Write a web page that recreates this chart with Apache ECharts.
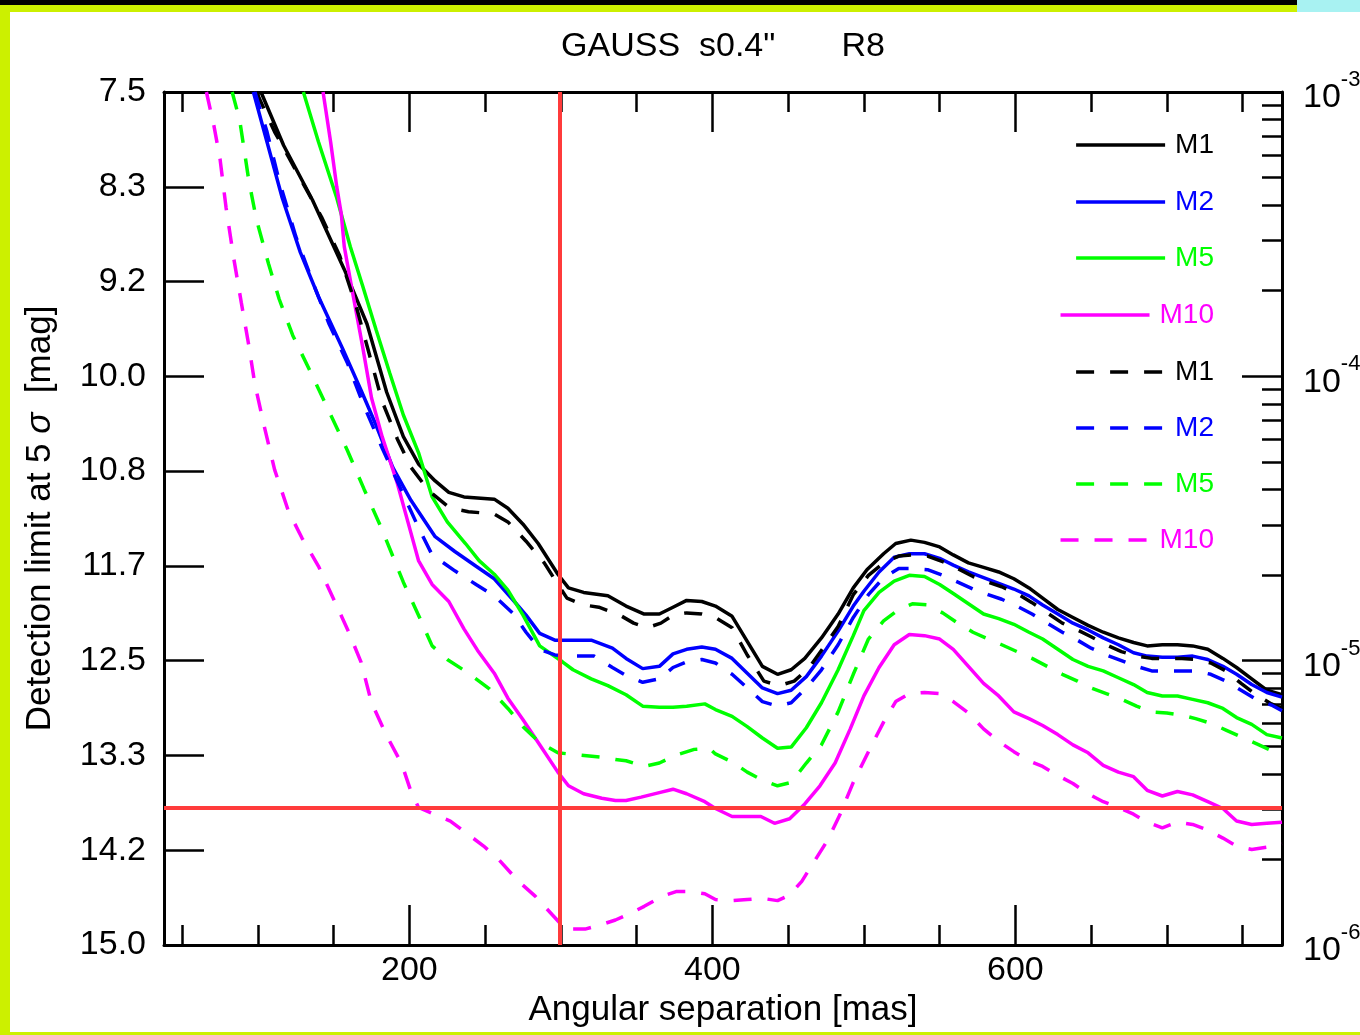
<!DOCTYPE html>
<html>
<head>
<meta charset="utf-8">
<script src="https://cdn.jsdelivr.net/npm/echarts@6/dist/echarts.min.js"></script>
<style>
html,body{margin:0;padding:0;background:#fff;overflow:hidden;}
#chart{position:absolute;left:0;top:0;width:1360px;height:1035px;}
.deco{position:absolute;pointer-events:none;z-index:5;}
</style>
</head>
<body>
<div id="chart"></div>
<div class="deco" style="left:0;top:0;width:1360px;height:5px;background:#000"></div>
<div class="deco" style="left:0;top:5px;width:1360px;height:7px;background:#ccf000"></div>
<div class="deco" style="left:0;top:5px;width:10px;height:1030px;background:#ccf000"></div>
<div class="deco" style="left:0;top:1032px;width:1360px;height:3px;background:#ccf000"></div>
<div class="deco" style="left:1297px;top:0;width:63px;height:12px;background:#a8f2f2"></div>
<script>
// ---------- axis ticks / labels ----------
const sepMinorTicks = [50,100,150,200,250,300,350,400,450,500,550,600,650,700,750];
const sepMajorTicks = [200,400,600];
const magTicks = [7.5, 8.3333, 9.1667, 10, 10.8333, 11.6667, 12.5, 13.3333, 14.1667, 15];
const fluxMajor = [1e-3, 1e-4, 1e-5, 1e-6];
const fluxMinor = [9e-4,8e-4,7e-4,6e-4,5e-4,4e-4,3e-4,2e-4,
                   9e-5,8e-5,7e-5,6e-5,5e-5,4e-5,3e-5,2e-5,
                   9e-6,8e-6,7e-6,6e-6,5e-6,4e-6,3e-6,2e-6];
const redSep = 299;     // vertical red line [mas]
const redMag = 13.79;   // horizontal red line [mag]

// ---------- series data [separation mas, mag] ----------
const m1Solid = [[102,7.5],[117,7.97],[136,8.45],[157,9.06],[172,9.54],[185,10.14],[196,10.53],[206,10.77],[217,10.92],[226,11.02],[236,11.06],[256,11.08],[265,11.16],[275,11.30],[285,11.47],[298,11.74],[305,11.86],[315,11.90],[331,11.93],[343,12.02],[355,12.09],[365,12.09],[374,12.03],[383,11.97],[393,11.98],[402,12.02],[413,12.11],[423,12.33],[433,12.55],[443,12.62],[452,12.58],[461,12.48],[472,12.30],[483,12.09],[493,11.86],[502,11.70],[513,11.56],[521,11.47],[531,11.44],[540,11.46],[550,11.50],[559,11.57],[569,11.64],[579,11.68],[589,11.72],[599,11.78],[609,11.86],[618,11.95],[628,12.05],[638,12.12],[648,12.19],[658,12.25],[668,12.30],[678,12.34],[687,12.37],[697,12.36],[707,12.36],[717,12.37],[727,12.40],[737,12.48],[746,12.56],[756,12.66],[766,12.76],[776,12.80]];
const m2Solid = [[97,7.5],[106,7.94],[116,8.43],[128,8.91],[140,9.30],[156,9.76],[168,10.12],[178,10.43],[189,10.80],[201,11.09],[217,11.41],[230,11.54],[244,11.67],[256,11.78],[268,11.96],[277,12.10],[286,12.26],[296,12.32],[308,12.32],[320,12.32],[334,12.39],[343,12.48],[354,12.57],[365,12.55],[374,12.44],[383,12.40],[393,12.38],[402,12.40],[413,12.48],[423,12.61],[433,12.74],[443,12.79],[452,12.76],[462,12.64],[472,12.46],[483,12.24],[493,12.02],[500,11.89],[510,11.72],[520,11.59],[530,11.56],[540,11.56],[550,11.60],[559,11.66],[569,11.72],[579,11.77],[589,11.82],[599,11.87],[609,11.93],[618,12.01],[628,12.09],[638,12.17],[648,12.23],[658,12.30],[668,12.36],[678,12.43],[687,12.46],[697,12.47],[707,12.47],[717,12.46],[727,12.49],[737,12.55],[746,12.62],[756,12.71],[766,12.78],[776,12.82]];
const m5Solid = [[130,7.5],[140,7.94],[152,8.43],[161,8.86],[169,9.20],[178,9.59],[187,9.97],[196,10.34],[206,10.67],[215,11.06],[225,11.28],[237,11.47],[246,11.62],[256,11.74],[265,11.88],[275,12.10],[286,12.37],[301,12.51],[308,12.58],[320,12.66],[331,12.72],[343,12.80],[354,12.90],[365,12.91],[374,12.91],[383,12.90],[395,12.88],[402,12.93],[413,12.99],[423,13.08],[433,13.18],[443,13.27],[452,13.26],[462,13.09],[472,12.87],[483,12.58],[493,12.28],[500,12.06],[510,11.90],[520,11.80],[530,11.75],[540,11.76],[550,11.83],[559,11.91],[569,12.00],[579,12.09],[589,12.13],[599,12.18],[609,12.25],[618,12.31],[628,12.40],[638,12.49],[648,12.55],[658,12.59],[668,12.65],[678,12.71],[687,12.78],[697,12.81],[707,12.81],[717,12.84],[727,12.87],[737,12.92],[746,13.00],[756,13.06],[766,13.15],[776,13.18]];
const m10Solid = [[143,7.5],[148,7.94],[152,8.33],[155,8.57],[157,8.86],[163,9.30],[169,9.73],[175,10.19],[182,10.53],[192,10.94],[199,11.28],[206,11.62],[215,11.83],[226,11.98],[236,12.22],[245,12.41],[256,12.61],[265,12.83],[275,13.02],[286,13.24],[298,13.48],[305,13.60],[315,13.67],[327,13.71],[336,13.73],[343,13.73],[353,13.70],[365,13.66],[374,13.63],[383,13.67],[395,13.74],[402,13.80],[413,13.87],[423,13.87],[432,13.87],[441,13.93],[451,13.89],[461,13.76],[471,13.60],[481,13.40],[491,13.10],[500,12.81],[510,12.56],[520,12.36],[530,12.27],[540,12.28],[550,12.31],[559,12.40],[569,12.55],[579,12.70],[589,12.81],[599,12.95],[609,13.01],[618,13.07],[628,13.15],[638,13.24],[648,13.31],[658,13.42],[668,13.48],[678,13.52],[687,13.64],[697,13.69],[707,13.65],[717,13.68],[727,13.74],[737,13.80],[746,13.91],[756,13.94],[766,13.93],[776,13.92]];
const m1Dash = [[99,7.5],[111,7.85],[128,8.26],[142,8.60],[154,8.94],[165,9.39],[173,9.78],[182,10.22],[192,10.55],[201,10.80],[213,11.01],[227,11.16],[239,11.19],[256,11.21],[265,11.28],[277,11.45],[289,11.64],[298,11.83],[304,11.95],[315,12.01],[325,12.03],[339,12.10],[348,12.17],[357,12.21],[366,12.17],[374,12.10],[383,12.08],[393,12.09],[402,12.12],[413,12.21],[423,12.45],[434,12.68],[444,12.72],[454,12.68],[464,12.56],[473,12.39],[483,12.20],[493,11.92],[503,11.75],[513,11.64],[523,11.58],[532,11.57],[542,11.58],[552,11.63],[562,11.69],[572,11.76],[582,11.81],[591,11.85],[601,11.91],[611,11.99],[621,12.08],[631,12.17],[641,12.23],[650,12.29],[660,12.36],[670,12.42],[680,12.46],[690,12.48],[700,12.48],[710,12.48],[719,12.49],[729,12.52],[739,12.59],[749,12.70],[759,12.80],[769,12.88],[776,12.92]];
const m2Dash = [[98,7.5],[106,7.85],[114,8.28],[125,8.77],[137,9.20],[147,9.54],[159,9.88],[170,10.26],[182,10.63],[196,11.04],[206,11.33],[215,11.57],[230,11.71],[244,11.83],[256,11.93],[268,12.08],[277,12.25],[286,12.40],[296,12.45],[310,12.46],[322,12.46],[334,12.56],[343,12.63],[354,12.69],[365,12.66],[374,12.56],[383,12.51],[393,12.49],[402,12.52],[413,12.62],[423,12.74],[433,12.86],[443,12.90],[452,12.87],[462,12.74],[472,12.58],[483,12.36],[493,12.12],[503,11.92],[513,11.77],[523,11.69],[532,11.69],[542,11.70],[552,11.75],[562,11.81],[572,11.87],[582,11.92],[591,11.96],[601,12.02],[611,12.09],[621,12.17],[631,12.25],[641,12.32],[650,12.39],[660,12.45],[670,12.50],[680,12.55],[690,12.59],[700,12.59],[710,12.59],[719,12.59],[729,12.62],[739,12.68],[749,12.76],[759,12.84],[769,12.89],[776,12.94]];
const m5Dash = [[83,7.5],[88,7.75],[94,8.28],[99,8.62],[107,9.01],[114,9.32],[123,9.64],[135,9.97],[147,10.31],[159,10.65],[170,10.99],[182,11.35],[196,11.81],[206,12.10],[215,12.37],[225,12.49],[239,12.61],[253,12.75],[265,12.92],[275,13.08],[286,13.22],[298,13.31],[312,13.33],[327,13.35],[336,13.37],[343,13.38],[355,13.43],[365,13.40],[376,13.33],[388,13.28],[398,13.27],[402,13.32],[413,13.39],[423,13.48],[433,13.55],[443,13.60],[452,13.57],[462,13.40],[472,13.24],[483,12.95],[493,12.62],[503,12.31],[513,12.15],[523,12.05],[532,12.00],[542,12.01],[552,12.08],[562,12.17],[572,12.25],[582,12.31],[591,12.36],[601,12.42],[611,12.48],[621,12.55],[631,12.62],[641,12.68],[650,12.74],[660,12.79],[670,12.84],[680,12.90],[690,12.95],[700,12.96],[710,12.98],[719,13.01],[729,13.05],[739,13.11],[749,13.17],[759,13.23],[769,13.29],[776,13.33]];
const m10Dash = [[66,7.5],[71,7.80],[75,8.09],[79,8.52],[84,8.96],[89,9.35],[94,9.73],[98,10.07],[104,10.43],[111,10.82],[120,11.18],[129,11.42],[140,11.67],[150,11.96],[160,12.25],[168,12.51],[175,12.87],[185,13.16],[195,13.41],[201,13.65],[206,13.79],[218,13.86],[227,13.91],[239,14.03],[249,14.13],[259,14.25],[272,14.44],[283,14.57],[294,14.73],[301,14.83],[308,14.86],[316,14.86],[327,14.82],[336,14.78],[346,14.72],[355,14.66],[367,14.57],[376,14.53],[386,14.53],[395,14.55],[402,14.60],[413,14.61],[423,14.60],[433,14.59],[443,14.61],[451,14.56],[459,14.44],[467,14.27],[476,14.08],[484,13.86],[493,13.57],[503,13.30],[513,13.04],[521,12.86],[530,12.79],[540,12.78],[550,12.79],[559,12.86],[569,12.96],[579,13.10],[589,13.21],[599,13.30],[609,13.38],[618,13.43],[628,13.51],[638,13.58],[648,13.67],[658,13.74],[668,13.79],[678,13.85],[687,13.92],[697,13.97],[707,13.92],[717,13.94],[727,13.99],[737,14.06],[746,14.13],[756,14.16],[766,14.14],[776,14.11]];

const seriesNames = ['M1','M2','M5','M10','M1 ','M2 ','M5 ','M10 '];
const seriesColors = ['#000000','#0000ff','#00ff00','#ff00ff','#000000','#0000ff','#00ff00','#ff00ff'];
const seriesData = [m1Solid, m2Solid, m5Solid, m10Solid, m1Dash, m2Dash, m5Dash, m10Dash];
const legendCenters = [145,202,258,315,372,428,484,540];

const FONT = 'Liberation Sans, Arial, Helvetica, sans-serif';
const DASH = [18,16];
const toMag = v => -2.5 * Math.log10(v);
const tickLine = {color:'#000', width:2.5};
const frameLine = {show:true, lineStyle:{color:'#000', width:3}};

const chart = echarts.init(document.getElementById('chart'), null, {renderer:'canvas'});

const xBase = {type:'value', min:38, max:776, splitLine:{show:false}, axisPointer:{show:false}};
const yBase = {type:'value', min:7.5, max:15, inverse:true, splitLine:{show:false}};

const series = seriesData.map((d,i) => ({
  type:'line', name: seriesNames[i], data: d, symbol:'none', xAxisIndex:0, yAxisIndex:0,
  color: seriesColors[i],
  lineStyle:{color: seriesColors[i], width:3.5, type: i < 4 ? 'solid' : DASH},
  emphasis:{disabled:true}, animation:false, z:2
}));
series.push({
  type:'line', name:'limits', data:[], xAxisIndex:0, yAxisIndex:0, z:5, animation:false,
  markLine:{silent:true, symbol:['none','none'], label:{show:false}, animation:false,
    lineStyle:{color:'#ff3b3b', width:4, type:'solid'},
    emphasis:{disabled:true},
    data:[{xAxis: redSep}, {yAxis: redMag}]}
});

const legends = seriesNames.map((n,i) => ({
  data:[n], orient:'vertical', right:141, top: legendCenters[i]-20,
  itemWidth:89, itemHeight:14, selectedMode:false,
  formatter: s => s.trim(),
  textStyle:{color: seriesColors[i], fontSize:28, fontFamily:FONT, lineHeight:30, padding:[0,0,0,5]},
  lineStyle:{width:3.5},
  itemStyle:{opacity:0}
}));

const option = {
  animation:false,
  backgroundColor:'#ffffff',
  title:{text:'GAUSS  s0.4"       R8', left:723, top:30, textAlign:'center', padding:0,
    textStyle:{fontSize:34, fontWeight:'normal', color:'#000', fontFamily:FONT}},
  grid:{left:164, right:78, top:92, bottom:90, containLabel:false, outerBoundsMode:'none'},
  legend: legends,
  xAxis:[
    Object.assign({}, xBase, {position:'bottom', axisLine:frameLine,
      axisTick:{show:true, inside:true, length:40, customValues: sepMajorTicks, lineStyle:tickLine},
      axisLabel:{customValues: sepMajorTicks, margin:9, fontSize:34, color:'#000', fontFamily:FONT},
      name:'Angular separation [mas]', nameLocation:'middle', nameGap:40,
      nameTextStyle:{fontSize:35, color:'#000', fontFamily:FONT}}),
    Object.assign({}, xBase, {position:'bottom', axisLine:{show:false},
      axisTick:{show:true, inside:true, length:20, customValues: sepMinorTicks, lineStyle:tickLine},
      axisLabel:{show:false}}),
    Object.assign({}, xBase, {position:'top', axisLine:frameLine,
      axisTick:{show:true, inside:true, length:40, customValues: sepMajorTicks, lineStyle:tickLine},
      axisLabel:{show:false}}),
    Object.assign({}, xBase, {position:'top', axisLine:{show:false},
      axisTick:{show:true, inside:true, length:20, customValues: sepMinorTicks, lineStyle:tickLine},
      axisLabel:{show:false}})
  ],
  yAxis:[
    Object.assign({}, yBase, {position:'left', axisLine:frameLine,
      axisTick:{show:true, inside:true, length:40, customValues: magTicks, lineStyle:tickLine},
      axisLabel:{customValues: magTicks, formatter: v => Number(v).toFixed(1), margin:18, fontSize:34, color:'#000', fontFamily:FONT},
      name:'Detection limit at 5 {s|σ}  [mag]', nameLocation:'middle', nameGap:106,
      nameTextStyle:{fontSize:35, color:'#000', fontFamily:FONT,
        rich:{s:{fontSize:35, fontStyle:'italic', color:'#000', fontFamily:FONT}}}}),
    Object.assign({}, yBase, {position:'right', axisLine:frameLine,
      axisTick:{show:true, inside:true, length:40, customValues: fluxMajor.map(toMag), lineStyle:tickLine},
      axisLabel:{customValues: fluxMajor.map(toMag), margin:21, color:'#000',
        formatter: v => '{b|10}{s|' + Math.round(-v/2.5) + '}',
        rich:{b:{fontSize:34, color:'#000', fontFamily:FONT, padding:[12,0,0,0]},
              s:{fontSize:22, color:'#000', fontFamily:FONT, verticalAlign:'top'}}}}),
    Object.assign({}, yBase, {position:'right', axisLine:{show:false},
      axisTick:{show:true, inside:true, length:20, customValues: fluxMinor.map(toMag), lineStyle:tickLine},
      axisLabel:{show:false}})
  ],
  series: series
};
chart.setOption(option);
</script>
</body>
</html>
